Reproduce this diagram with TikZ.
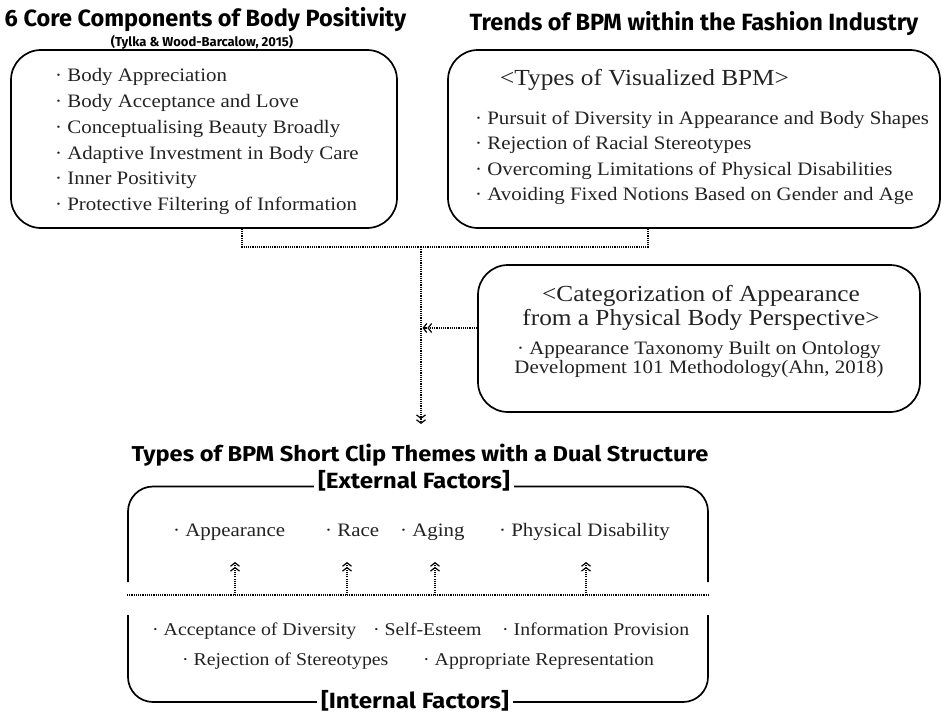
\documentclass[tikz,border=0pt]{standalone}
\usepackage{fontspec}
\setmainfont{Liberation Serif}[FakeStretch=1.1]
\newfontfamily\tfont{Fira Sans}
\newfontfamily\tfontw{Fira Sans}[FakeStretch=1.1]
\usetikzlibrary{arrows.meta}
\definecolor{txt}{HTML}{222222}
\begin{document}
\begin{tikzpicture}[x=1pt,y=-1pt,
  outline/.style={line width=1.7pt, draw=black},
  rbox/.style={outline, rounded corners=30pt, inner sep=0pt},
  conn/.style={line width=1.1pt, dash pattern=on 1.1pt off 1.1pt},
  dbl/.style={-{Straight Barb[length=3.5pt,width=9pt,line width=1.2pt] Straight Barb[length=3.5pt,width=9pt,line width=1.2pt]}},
  ttl/.style={font=\tfont\bfseries\fontsize{23.5}{26}\selectfont, inner sep=0pt, anchor=base},
  lbl/.style={font=\tfontw\bfseries\fontsize{22}{24}\selectfont, inner xsep=4pt, inner ysep=0pt, anchor=base},
  body/.style={font=\fontsize{19}{22}\selectfont, inner sep=0pt, anchor=base west, text=txt},
  ibody/.style={body, font=\fontsize{18}{22}\selectfont},
  cbody/.style={font=\fontsize{19}{22}\selectfont, inner sep=0pt, anchor=base, text=txt},
  head/.style={font=\fontsize{23}{26}\selectfont, inner sep=0pt, text=txt},
]
\path[use as bounding box] (0,0) rectangle (942,712);

% titles
\node[ttl] (t1) at (205.5,26) {6 Core Components of Body Positivity};
\node[ttl, font=\tfont\bfseries\fontsize{13}{15}\selectfont] (t1s) at (202,46.5) {(Tylka \& Wood-Barcalow, 2015)};
\node[ttl] (t2) at (694,30.5) {Trends of BPM within the Fashion Industry};

% box 1
\node[rbox, minimum width=386pt, minimum height=178pt] (box1) at (204,139) {};
\foreach \t [count=\i] in {Body Appreciation, Body Acceptance and Love, Conceptualising Beauty Broadly, Adaptive Investment in Body Care, Inner Positivity, Protective Filtering of Information}
  \node[body] (b1l\i) at (55,{81.7+25.8*(\i-1)}) {· \t};

% box 2
\node[rbox, minimum width=492pt, minimum height=178pt] (box2) at (694,139) {};
\node[head, anchor=base west] (b2h) at (500,85) {<Types of Visualized BPM>};
\node[body] (b2l1) at (475,124) {· Pursuit of Diversity in Appearance and Body Shapes};
\node[body] (b2l2) at (475,149.5) {· Rejection of Racial Stereotypes};
\node[body] (b2l3) at (475,175) {· Overcoming Limitations of Physical Disabilities};
\node[body] (b2l4) at (475,200) {· Avoiding Fixed Notions Based on Gender and Age};

% box 3
\node[rbox, minimum width=442pt, minimum height=147pt] (box3) at (699,338.5) {};
\node[head, anchor=base] (b3h1) at (701,301.7) {<Categorization of Appearance};
\node[head, anchor=base] (b3h2) at (701,325) {from a Physical Body Perspective>};
\node[cbody] (b3l1) at (699,354) {· Appearance Taxonomy Built on Ontology};
\node[cbody] (b3l2) at (699,373) {Development 101 Methodology(Ahn, 2018)};

% connectors top
\coordinate (m) at (421,247);
\coordinate (mend) at (421,424);
\draw[conn] ([xshift=38pt]box1.south) |- (m);
\draw[conn] ([xshift=-46pt]box2.south) |- (m);
\draw[conn,dbl] (m) -- (mend);
\draw[conn,dbl,shorten >=1.5pt] ([yshift=10.5pt]box3.west) -- ([yshift=10.5pt]box3.west -| m);

% bottom section
\node[ttl, font=\tfontw\bfseries\fontsize{21.5}{24}\selectfont] (bt) at (420,461) {Types of BPM Short Clip Themes with a Dual Structure};

\coordinate (ty) at (0,486.5);
\coordinate (tl) at (128,582);
\coordinate (tr) at (708,582);
\coordinate (bl) at (128,615);
\coordinate (br) at (708,615);
\coordinate (by) at (0,702);
\node[lbl] (ext) at (414,488) {[External Factors]};
\node[lbl] (int) at (415,708) {[Internal Factors]};
\draw[outline, rounded corners=25pt] (ext.west |- ty) -| (tl);
\draw[outline, rounded corners=25pt] (ext.east |- ty) -| (tr);
\draw[outline, rounded corners=25pt] (bl) |- (int.west |- by);
\draw[outline, rounded corners=25pt] (br) |- (int.east |- by);

\node[body] (e1) at (173,536.5) {· Appearance};
\node[body] (e2) at (325,536.5) {· Race};
\node[body] (e3) at (400,536.5) {· Aging};
\node[body] (e4) at (499,536.5) {· Physical Disability};

\coordinate (dl) at (127,595);
\coordinate (dr) at (708,595);
\draw[conn] (dl) -- (dr);
\coordinate (u1) at (235,562);
\coordinate (u2) at (347,562);
\coordinate (u3) at (435,562);
\coordinate (u4) at (586,562);
\foreach \u in {u1,u2,u3,u4}
  \draw[conn,dbl] (\u |- dl) -- (\u);

\node[ibody] (i1) at (152,635) {· Acceptance of Diversity};
\node[ibody] (i2) at (373,635) {· Self-Esteem};
\node[ibody] (i3) at (502,635) {· Information Provision};
\node[ibody] (i4) at (182,665) {· Rejection of Stereotypes};
\node[ibody] (i5) at (423,665) {· Appropriate Representation};
\end{tikzpicture}
\end{document}
